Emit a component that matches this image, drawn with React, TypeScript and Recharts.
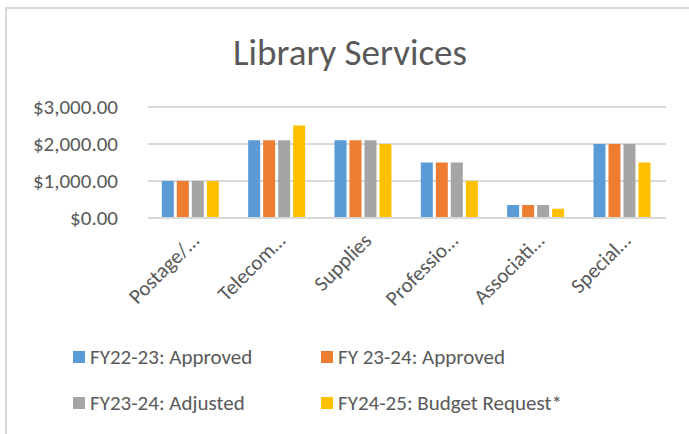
import React from 'react';
import { BarChart, Bar, XAxis, YAxis, CartesianGrid, Legend } from 'recharts';

const categories = ['Postage/…', 'Telecom…', 'Supplies', 'Professio…', 'Associati…', 'Special…'];
const fy2223Approved = [1000, 2100, 2100, 1500, 350, 2000];
const fy2324Approved = [1000, 2100, 2100, 1500, 350, 2000];
const fy2324Adjusted = [1000, 2100, 2100, 1500, 350, 2000];
const fy2425Request = [1000, 2500, 2000, 1000, 250, 1500];
const yTicks = [0, 1000, 2000, 3000];

const seriesNames = [
  'FY22-23: Approved',
  'FY 23-24: Approved',
  'FY23-24: Adjusted',
  'FY24-25: Budget Request*',
];
const colors = ['#5B9BD5', '#ED7D31', '#A5A5A5', '#FFC000'];

const data = categories.map((c, i) => ({
  name: c,
  s0: fy2223Approved[i],
  s1: fy2324Approved[i],
  s2: fy2324Adjusted[i],
  s3: fy2425Request[i],
}));

const FONT = 'Carlito, Lato, sans-serif';
const TEXT = '#595959';

const fmt = (v: number) =>
  '$' + v.toLocaleString('en-US', { minimumFractionDigits: 2, maximumFractionDigits: 2 });

const XTick = (props: any) => {
  const { x, y, payload } = props;
  const ax = x + 9;
  const ay = y + 24;
  return (
    <text
      x={ax}
      y={ay}
      transform={`rotate(-45 ${ax} ${ay})`}
      textAnchor="end"
      fill={TEXT}
      fontSize={21}
      fontFamily={FONT}
    >
      {payload.value}
    </text>
  );
};

const LegendContent = () => {
  const pos = [
    { left: 73, top: 0 },
    { left: 321, top: 0 },
    { left: 73, top: 46 },
    { left: 321, top: 46 },
  ];
  return (
    <div style={{ position: 'relative', width: 689, height: 90 }}>
      {seriesNames.map((n, i) => (
        <div
          key={n}
          style={{
            position: 'absolute',
            left: pos[i].left,
            top: pos[i].top,
            height: 14,
            display: 'flex',
            alignItems: 'center',
            whiteSpace: 'nowrap',
          }}
        >
          <span style={{ display: 'inline-block', width: 12, height: 12, background: colors[i], marginRight: 5 }} />
          <span style={{ fontFamily: FONT, fontSize: 21, color: TEXT, lineHeight: '14px' }}>{n}</span>
        </div>
      ))}
    </div>
  );
};

export default function App() {
  return (
    <div style={{ position: 'absolute', left: 0, top: 0, width: 689, height: 434, background: '#fff' }}>
      <div
        style={{
          position: 'absolute',
          left: 5,
          top: 7,
          width: 684,
          height: 427,
          borderTop: '2px solid #d9d9d9',
          borderLeft: '2px solid #d9d9d9',
          boxSizing: 'border-box',
        }}
      />
      <svg style={{ position: 'absolute', left: 0, top: 0 }} width={689} height={90}>
        <text x={350} y={65} textAnchor="middle" fontSize={37} fontFamily={FONT} fill={TEXT}>
          Library Services
        </text>
      </svg>
      <div style={{ position: 'absolute', left: 0, top: 0 }}>
        <BarChart
          width={689}
          height={434}
          data={data}
          margin={{ top: 107, right: 23, bottom: 116, left: 0 }}
          barCategoryGap="16%"
          barGap={3}
        >
          <CartesianGrid vertical={false} stroke="#d9d9d9" strokeWidth={2} />
          <XAxis
            dataKey="name"
            height={100}
            interval={0}
            tickLine={false}
            tickSize={0}
            tickMargin={0}
            axisLine={{ stroke: '#d9d9d9', strokeWidth: 2 }}
            tick={<XTick />}
          />
          <YAxis
            width={148}
            domain={[0, 3000]}
            ticks={yTicks}
            axisLine={false}
            tickLine={false}
            tickSize={0}
            tickMargin={30}
            tickFormatter={fmt}
            tick={{ fill: TEXT, fontSize: 21, fontFamily: FONT }}
          />
          <Legend
            layout="vertical"
            align="center"
            verticalAlign="middle"
            wrapperStyle={{ left: 0, top: 350, width: 689 }}
            content={<LegendContent />}
          />
          {['s0', 's1', 's2', 's3'].map((k, i) => (
            <Bar key={k} dataKey={k} name={seriesNames[i]} fill={colors[i]} isAnimationActive={false} />
          ))}
        </BarChart>
      </div>
    </div>
  );
}
